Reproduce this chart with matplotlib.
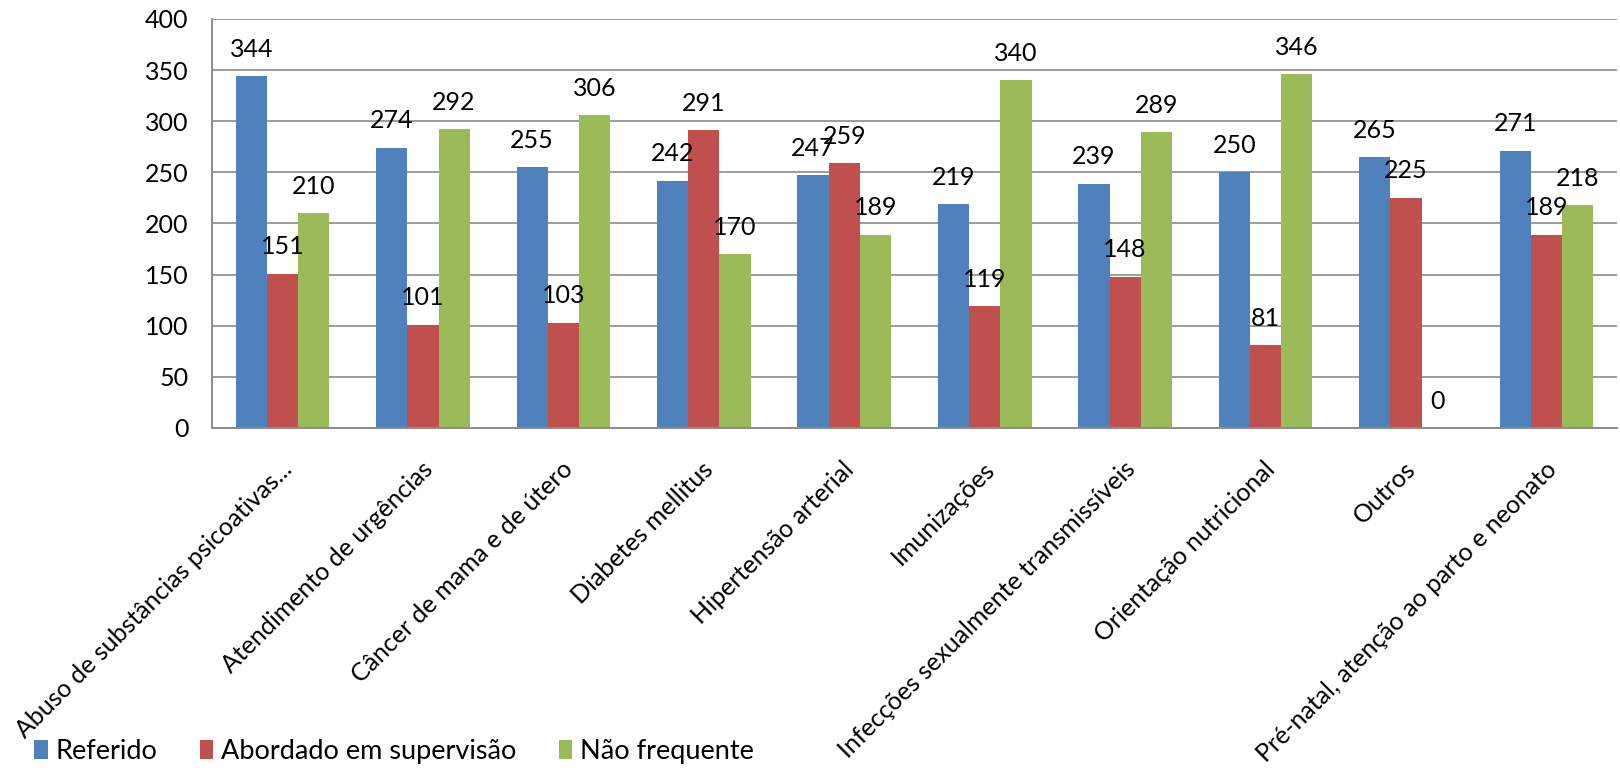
import numpy as np
import matplotlib
matplotlib.use("Agg")
import matplotlib.pyplot as plt
import matplotlib.transforms as mtransforms
from matplotlib.patches import Patch

plt.rcParams["font.family"] = ["Lato", "DejaVu Sans"]

categories = [
    "Abuso de substâncias psicoativas...",
    "Atendimento de urgências",
    "Câncer de mama e de útero",
    "Diabetes mellitus",
    "Hipertensão arterial",
    "Imunizações",
    "Infecções sexualmente transmissíveis",
    "Orientação nutricional",
    "Outros",
    "Pré-natal, atenção ao parto e neonato",
]
series_names = ["Referido", "Abordado em supervisão", "Não frequente"]
referido = [344, 274, 255, 242, 247, 219, 239, 250, 265, 271]
abordado = [151, 101, 103, 291, 259, 119, 148, 81, 225, 189]
nao_frequente = [210, 292, 306, 170, 189, 340, 289, 346, 0, 218]
colors = ["#4F81BD", "#C0504D", "#9BBB59"]
y_ticks = [0, 50, 100, 150, 200, 250, 300, 350, 400]

fig = plt.figure(figsize=(16.2, 7.72), dpi=100)
ax = fig.add_axes([0.131, 0.4456, 0.867, 0.5298])

x = np.arange(len(categories)) + 0.5
width = 1 / 4.5
for k, (vals, col) in enumerate(zip([referido, abordado, nao_frequente], colors)):
    pos = x + (k - 1) * width
    ax.bar(pos, vals, width=width, color=col, linewidth=0, zorder=2)
    for px, v in zip(pos, vals):
        ax.annotate(str(v), (px, v), xytext=(0, 14), textcoords="offset points",
                    ha="center", va="baseline", fontsize=18, color="black", zorder=3)

ax.set_xlim(0, len(categories))
ax.set_ylim(0, 400)
ax.set_yticks(y_ticks)
ax.tick_params(axis="y", length=0, pad=17, labelsize=18)
ax.grid(axis="y", color="#8C8C8C", linewidth=1.2, zorder=1)
ax.set_axisbelow(True)

ax.set_xticks(x)
ax.set_xticklabels(categories, rotation=45, ha="right", va="center",
                   rotation_mode="anchor", fontsize=18)
ax.tick_params(axis="x", length=0, pad=27)
shift = mtransforms.ScaledTranslation(6 / 100, 0, fig.dpi_scale_trans)
for lab in ax.get_xticklabels():
    lab.set_transform(lab.get_transform() + shift)

for side in ["top", "right"]:
    ax.spines[side].set_visible(False)
for side in ["left", "bottom"]:
    ax.spines[side].set_color("#8C8C8C")
    ax.spines[side].set_linewidth(1.4)

handles = [Patch(facecolor=c, edgecolor="none") for c in colors]
fig.legend(handles, series_names, loc="center left", bbox_to_anchor=(0.021, 0.027),
           ncol=3, frameon=False, fontsize=19.5, handlelength=0.5, handleheight=0.7,
           handletextpad=0.3, columnspacing=1.55, borderpad=0, borderaxespad=0)

fig.savefig("out.png", dpi=100, facecolor="white")
